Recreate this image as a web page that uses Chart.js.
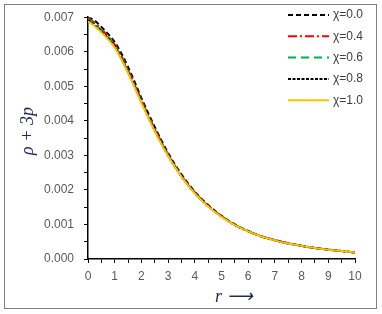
<!DOCTYPE html>
<html>
<head>
<meta charset="utf-8">
<script src="https://cdn.jsdelivr.net/npm/chart.js@4/dist/chart.umd.min.js"></script>
<style>
  html, body { margin: 0; padding: 0; background: #fff; }
  #wrap { position: relative; width: 382px; height: 314px; }
</style>
</head>
<body>
<div id="wrap"><canvas id="rhoChart" width="382" height="314"></canvas></div>
<script>
// radial coordinate r
const rValues = [0, 0.25, 0.5, 0.75, 1, 1.25, 1.5, 1.75, 2, 2.5, 3, 3.5, 4, 4.5, 5, 5.5, 6, 6.5, 7, 7.5, 8, 8.5, 9, 9.5, 10];

// rho + 3p for each chi
const chi00 = [0.00700, 0.00690, 0.00672, 0.00652, 0.00628, 0.00595, 0.00556, 0.00512, 0.00466, 0.00382, 0.00307, 0.00245, 0.00195, 0.00156, 0.00125, 0.00100, 0.00081, 0.00066, 0.00055, 0.00046, 0.00038, 0.00032, 0.00027, 0.00023, 0.00019];
const chi04 = [0.00698, 0.00684, 0.00666, 0.00645, 0.00621, 0.00588, 0.00548, 0.00505, 0.00460, 0.00377, 0.00303, 0.00242, 0.00193, 0.00154, 0.00124, 0.00099, 0.00080, 0.00066, 0.00054, 0.00045, 0.00038, 0.00032, 0.00027, 0.00023, 0.00019];
const chi06 = [0.00695, 0.00680, 0.00662, 0.00642, 0.00618, 0.00584, 0.00544, 0.00501, 0.00457, 0.00374, 0.00301, 0.00240, 0.00192, 0.00153, 0.00123, 0.00099, 0.00080, 0.00065, 0.00054, 0.00045, 0.00038, 0.00032, 0.00027, 0.00023, 0.00019];
const chi08 = [0.00692, 0.00677, 0.00659, 0.00639, 0.00615, 0.00581, 0.00541, 0.00499, 0.00455, 0.00372, 0.00299, 0.00239, 0.00191, 0.00153, 0.00123, 0.00098, 0.00080, 0.00065, 0.00054, 0.00045, 0.00038, 0.00032, 0.00027, 0.00023, 0.00019];
const chi10 = [0.00688, 0.00674, 0.00656, 0.00636, 0.00612, 0.00578, 0.00538, 0.00496, 0.00452, 0.00370, 0.00298, 0.00238, 0.00190, 0.00152, 0.00122, 0.00098, 0.00080, 0.00065, 0.00054, 0.00045, 0.00038, 0.00032, 0.00027, 0.00023, 0.00019];

const seriesLabels = ['χ=0.0', 'χ=0.4', 'χ=0.6', 'χ=0.8', 'χ=1.0'];
const seriesData = [chi00, chi04, chi06, chi08, chi10];

const lineColors = ['#000000', '#ff0000', '#00b050', '#000000', '#ffc000'];
const lineDashes = [[5, 3], [9, 3, 2, 3], [8, 5], [3, 1.5], []];

const yTitle = 'ρ + 3p';
const xTitle = 'r ⟶';

const datasets = seriesData.map((vals, i) => ({
  label: seriesLabels[i],
  data: vals.map((v, k) => ({ x: rValues[k], y: v })),
  borderColor: lineColors[i],
  borderDash: lineDashes[i],
  borderWidth: 2,
  pointRadius: 0,
  fill: false,
  cubicInterpolationMode: 'monotone',
  order: seriesData.length - i
}));

// frame, axis titles and the line legend
const decorPlugin = {
  id: 'decor',
  beforeDraw(chart) {
    const c = chart.ctx;
    c.save();
    c.fillStyle = '#fff';
    c.fillRect(0, 0, chart.width, chart.height);
    c.strokeStyle = '#7f7f7f';
    c.lineWidth = 1;
    c.strokeRect(4.5, 4.5, 372, 304);
    c.restore();
  },
  afterDraw(chart) {
    const c = chart.ctx;
    c.save();
    // y title
    c.fillStyle = '#1f2a5c';
    c.font = 'italic 18px "Liberation Serif"';
    c.textAlign = 'center';
    c.textBaseline = 'middle';
    c.translate(28, 131);
    c.rotate(-Math.PI / 2);
    c.fillText(yTitle, 0, 0);
    c.restore();

    c.save();
    c.fillStyle = '#1f2a5c';
    c.font = 'italic 18px "Liberation Serif"';
    c.textAlign = 'left';
    c.textBaseline = 'middle';
    c.fillText(xTitle, 215, 297);
    c.restore();

    // legend
    c.save();
    c.font = '12px "Liberation Sans"';
    c.textBaseline = 'middle';
    seriesLabels.forEach((lab, i) => {
      const y = 15 + i * 21.3;
      c.strokeStyle = lineColors[i];
      c.lineWidth = 2;
      c.setLineDash(lineDashes[i]);
      c.beginPath();
      c.moveTo(288, y);
      c.lineTo(329, y);
      c.stroke();
      c.setLineDash([]);
      c.fillStyle = '#404040';
      c.fillText(lab, 333, y);
    });
    c.restore();
  }
};

const ctx = document.getElementById('rhoChart').getContext('2d');

new Chart(ctx, {
  type: 'line',
  data: { datasets: datasets },
  plugins: [decorPlugin],
  options: {
    responsive: false,
    animation: false,
    layout: { padding: { left: 0, top: 17, right: 27, bottom: 0 } },
    plugins: {
      legend: { display: false },
      tooltip: { enabled: false }
    },
    scales: {
      x: {
        type: 'linear',
        min: 0,
        max: 10,
        afterFit: (scale) => { scale.height = 55; },
        border: { display: true, color: '#000', width: 1.5 },
        grid: { display: true, drawOnChartArea: false, drawTicks: true, tickLength: 4, color: '#000' },
        ticks: {
          stepSize: 0.5,
          autoSkip: false,
          maxRotation: 0,
          padding: 6,
          color: '#595959',
          font: { family: 'Liberation Sans', size: 12 },
          callback: (v) => Number.isInteger(v) ? String(v) : ''
        }
      },
      y: {
        min: 0,
        max: 0.007,
        afterFit: (scale) => { scale.width = 88; },
        border: { display: true, color: '#000', width: 1.5 },
        grid: { display: true, drawOnChartArea: false, drawTicks: true, tickLength: 4, color: '#000' },
        ticks: {
          stepSize: 0.0005,
          autoSkip: false,
          padding: 10,
          color: '#595959',
          font: { family: 'Liberation Sans', size: 12 },
          callback: (v) => (Math.round(v * 10000) % 10 === 0) ? v.toFixed(3) : ''
        }
      }
    }
  }
});
</script>
</body>
</html>
